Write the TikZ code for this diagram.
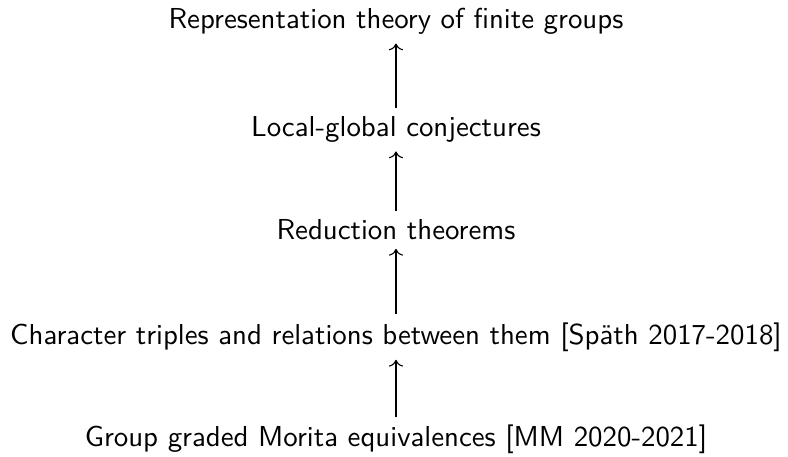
\documentclass[tikz,border=0pt]{standalone}
\usepackage{tikz}
\usetikzlibrary{arrows,cd}
\renewcommand{\familydefault}{\sfdefault}
\tikzset{
    topic/.style = {anchor=base, inner sep=2.77pt},
    arrow/.style = {draw, line width=0.38pt, >=cm to, ->}
}

\begin{document}
\begin{tikzpicture}
                \useasboundingbox (0,0) rectangle (9.598,5.566);
                \node[topic] (rep) at (4.823,5.213) {Representation theory of finite groups};
                \node[topic] (lg) at (4.823,3.898) {Local-global conjectures};
                \node[topic] (red) at (4.823,2.643) {Reduction theorems};
                \node[topic] (ct) at (4.823,1.376) {Character triples and relations between them [Sp\"ath 2017-2018]};
                \node[topic] (gm) at (4.823,0.122) {Group graded Morita equivalences [MM 2020-2021]};
                \draw [arrow] (lg) -- (rep);
                \draw [arrow] (red) -- (lg);
                \draw [arrow] (ct) -- (red);
                \draw [arrow] (gm) -- (ct);
            \end{tikzpicture}
\end{document}
